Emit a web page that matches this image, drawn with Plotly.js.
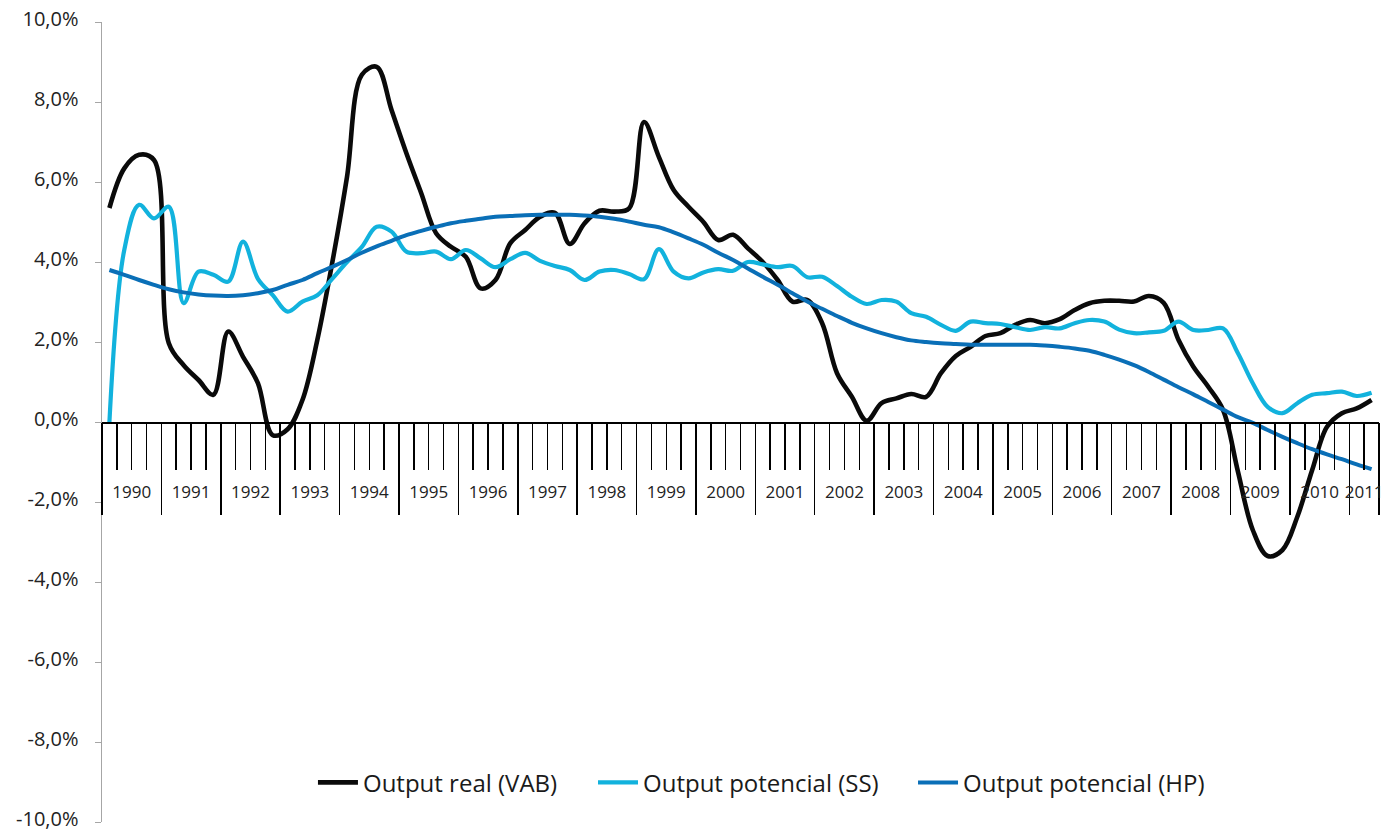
<!DOCTYPE html>
<html>
<head>
<meta charset="utf-8">
<script src="https://cdn.plot.ly/plotly-3.0.1.min.js"></script>
<style>
  html, body { margin: 0; padding: 0; background: #ffffff; }
  #chart { width: 1390px; height: 832px; }
</style>
</head>
<body>
<div id="chart"></div>
<script>
// Years shown on the category axis
const years = ['1990','1991','1992','1993','1994','1995','1996','1997','1998','1999','2000',
               '2001','2002','2003','2004','2005','2006','2007','2008','2009','2010','2011'];
// Quarters per year (2011 has only two quarters)
const quartersPerYear = [4,4,4,4,4,4,4,4,4,4,4,4,4,4,4,4,4,4,4,4,4,2];

// Output real (VAB), % growth, quarterly
const outputReal = [
  5.35, 6.34, 6.68, 6.55, 1.97, 1.42, 1.05, 0.68, 2.26, 1.63,
  0.97, -0.33, -0.18, 0.55, 2.05, 3.97, 6.13, 8.68, 8.88, 7.8,
  6.72, 5.72, 4.72, 4.38, 4.13, 3.34, 3.55, 4.47, 4.8, 5.13,
  5.23, 4.45, 4.97, 5.28, 5.26, 5.34, 7.5, 6.63, 5.8, 5.38,
  5.0, 4.55, 4.68, 4.34, 4.0, 3.55, 3.01, 3.05, 2.47, 1.22,
  0.63, 0.03, 0.47, 0.59, 0.7, 0.63, 1.22, 1.65, 1.88, 2.15,
  2.22, 2.43, 2.55, 2.47, 2.57, 2.8, 2.97, 3.03, 3.03, 3.01,
  3.15, 2.98, 2.05, 1.38, 0.88, 0.3, -1.24, -2.7, -3.35, -3.2,
  -2.37, -1.2, -0.12, 0.22, 0.34, 0.55
];

// Output potencial (SS)
const outputSS = [
  0.0, 4.3, 5.43, 5.09, 5.38, 2.97, 3.76, 3.68, 3.51, 4.51,
  3.58, 3.17, 2.76, 3.01, 3.17, 3.58, 4.0, 4.38, 4.88, 4.76,
  4.26, 4.22, 4.26, 4.07, 4.3, 4.09, 3.87, 4.07, 4.23, 4.03,
  3.9, 3.8, 3.55, 3.76, 3.8, 3.7, 3.57, 4.32, 3.76, 3.59,
  3.74, 3.82, 3.78, 4.0, 3.94, 3.87, 3.9, 3.62, 3.63, 3.4,
  3.13, 2.95, 3.05, 3.01, 2.72, 2.63, 2.43, 2.28, 2.51, 2.47,
  2.45, 2.37, 2.3, 2.37, 2.34, 2.47, 2.55, 2.51, 2.31, 2.22,
  2.24, 2.28, 2.51, 2.3, 2.3, 2.34, 1.72, 0.97, 0.38, 0.22,
  0.47, 0.68, 0.72, 0.76, 0.65, 0.73
];

// Output potencial (HP)
const outputHP = [
  3.8, 3.68, 3.55, 3.43, 3.32, 3.24, 3.19, 3.16, 3.15, 3.17,
  3.22, 3.3, 3.43, 3.55, 3.72, 3.88, 4.05, 4.23, 4.39, 4.53,
  4.67, 4.78, 4.88, 4.97, 5.03, 5.08, 5.13, 5.15, 5.17, 5.18,
  5.18, 5.18, 5.16, 5.13, 5.08, 5.01, 4.93, 4.87, 4.74, 4.59,
  4.43, 4.23, 4.05, 3.84, 3.63, 3.43, 3.22, 3.01, 2.83, 2.65,
  2.48, 2.34, 2.22, 2.12, 2.04, 2.0, 1.97, 1.95, 1.93, 1.93,
  1.93, 1.93, 1.93, 1.91, 1.88, 1.84, 1.78, 1.68, 1.56, 1.42,
  1.25, 1.06, 0.87, 0.69, 0.5, 0.31, 0.12, -0.02, -0.2, -0.37,
  -0.53, -0.68, -0.81, -0.93, -1.06, -1.18
];

const seriesNames = ['Output real (VAB)', 'Output potencial (SS)', 'Output potencial (HP)'];
const seriesColors = ['#0a0a0a', '#12B2DD', '#0A6FB7'];
const seriesWidths = [4.6, 4.2, 4.0];

const yTickVals = [-10, -8, -6, -4, -2, 0, 2, 4, 6, 8, 10];
const yTickText = ['-10,0%', '-8,0%', '-6,0%', '-4,0%', '-2,0%', '0,0%', '2,0%', '4,0%', '6,0%', '8,0%', '10,0%'];

// Build quarter categories from the years
const quarters = [];
years.forEach((y, k) => { for (let q = 1; q <= quartersPerYear[k]; q++) quarters.push(y + ' T' + q); });

// Year boundaries and centres, in category index units
const yearBounds = [-0.5];
const yearCentres = [];
let acc = 0;
quartersPerYear.forEach(n => { yearCentres.push(acc + (n - 1) / 2); acc += n; yearBounds.push(acc - 0.5); });

const xRange = [-0.5, quarters.length - 0.5];
const FONT = '"Open Sans", "Noto Sans", sans-serif';
const legendIds = ['legend', 'legend2', 'legend3'];
const legendX = [0.1652, 0.3845, 0.6351];

const dataSets = [outputReal, outputSS, outputHP];
const traces = dataSets.map((vals, k) => ({
  type: 'scatter', mode: 'lines',
  x: quarters, y: vals, name: seriesNames[k], legend: legendIds[k],
  line: { color: seriesColors[k], width: seriesWidths[k], shape: 'spline', smoothing: 1 },
  cliponaxis: false
}));
// empty helper traces so the overlay axes are drawn
traces.push({ type: 'scatter', x: [], y: [], xaxis: 'x2', showlegend: false, hoverinfo: 'skip' });
traces.push({ type: 'scatter', x: [], y: [], xaxis: 'x3', showlegend: false, hoverinfo: 'skip' });

function legendBox(k) {
  return {
    orientation: 'h', x: legendX[k], xanchor: 'left', y: 0.049, yanchor: 'middle',
    font: { family: FONT, size: 24, color: '#1a1a1a' },
    bgcolor: 'rgba(0,0,0,0)', itemwidth: 40, borderwidth: 0
  };
}

const layout = {
  width: 1390, height: 832,
  margin: { l: 102, r: 11, t: 22, b: 10 },
  paper_bgcolor: '#ffffff', plot_bgcolor: '#ffffff',
  font: { family: FONT, color: '#222222', size: 17 },
  showlegend: true,
  legend: legendBox(0), legend2: legendBox(1), legend3: legendBox(2),
  xaxis: {
    type: 'category', range: xRange, anchor: 'free', position: 0.5,
    showline: true, linecolor: '#000000', linewidth: 1.5,
    tickmode: 'linear', tick0: 0, dtick: 1, tickson: 'boundaries',
    ticks: 'outside', ticklen: 46, tickwidth: 1.5, tickcolor: '#000000',
    showticklabels: false, showgrid: false, zeroline: false, fixedrange: true
  },
  xaxis2: {
    type: 'linear', overlaying: 'x', range: xRange, anchor: 'free', position: 0.5,
    showline: false, tickmode: 'array', tickvals: yearBounds,
    ticks: 'outside', ticklen: 92, tickwidth: 1.5, tickcolor: '#000000',
    showticklabels: false, showgrid: false, zeroline: false
  },
  xaxis3: {
    type: 'linear', overlaying: 'x', range: xRange, anchor: 'free', position: 0.5,
    showline: false, tickmode: 'array', tickvals: yearCentres, ticktext: years,
    ticks: 'outside', ticklen: 55, tickcolor: 'rgba(0,0,0,0)',
    tickfont: { family: FONT, size: 17, color: '#222222' },
    ticklabeloverflow: 'allow',
    showgrid: false, zeroline: false
  },
  yaxis: {
    range: [-10, 10], tickmode: 'array', tickvals: yTickVals, ticktext: yTickText,
    showline: true, linecolor: '#A6A6A6', linewidth: 1.5,
    ticks: 'outside', ticklen: 6, tickwidth: 1, tickcolor: '#A6A6A6',
    ticklabelstandoff: 12, ticklabeloverflow: 'allow', ticklabelshift: -3,
    tickfont: { family: FONT, size: 20, color: '#222222' },
    showgrid: false, zeroline: false, fixedrange: true
  }
};

Plotly.newPlot('chart', traces, layout, { displayModeBar: false, staticPlot: true });
</script>
</body>
</html>
